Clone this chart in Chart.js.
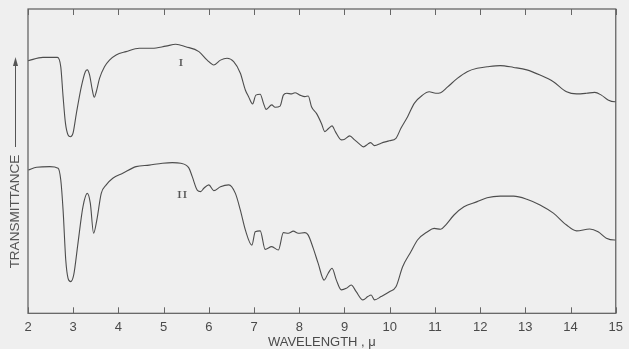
<!DOCTYPE html>
<html>
<head>
<meta charset="utf-8">
<script src="https://cdn.jsdelivr.net/npm/chart.js@4/dist/chart.umd.min.js"></script>
<style>
  html, body { margin: 0; padding: 0; background: #efefef; }
  canvas { display: block; }
</style>
</head>
<body>
<canvas id="spectra" width="629" height="349"></canvas>
<script>
// Infrared transmittance spectra, samples I and II (arbitrary transmittance units, 0-100 frame)
const xTicks = [2, 3, 4, 5, 6, 7, 8, 9, 10, 11, 12, 13, 14, 15];

const wavelengthI = [
  2.00, 2.33, 2.65, 2.725, 2.776, 2.829, 2.886, 2.938, 2.996, 3.070, 3.180, 3.268, 3.312,
  3.363, 3.422, 3.466, 3.510, 3.582, 3.692, 3.802, 3.949, 4.169, 4.462, 4.747, 5.048, 5.268,
  5.488, 5.780, 5.963, 6.110, 6.257, 6.402, 6.549, 6.697, 6.807, 6.879, 6.967, 7.040, 7.136,
  7.209, 7.268, 7.391, 7.466, 7.576, 7.648, 7.721, 7.831, 7.905, 8.015, 8.125, 8.198, 8.270,
  8.380, 8.490, 8.565, 8.653, 8.725, 8.798, 8.930, 9.004, 9.114, 9.224, 9.334, 9.422, 9.516,
  9.576, 9.664, 9.809, 9.993, 10.138, 10.248, 10.396, 10.543, 10.725, 10.873, 11.018, 11.127,
  11.275, 11.495, 11.714, 11.934, 12.154, 12.446, 12.741, 13.033, 13.325, 13.620, 13.912,
  14.132, 14.352, 14.534, 14.681, 14.829, 14.974, 15.00
];
const transmittanceI = [
  83.0, 84.1, 84.1, 81.0, 71.2, 62.4, 58.6, 58.0, 59.2, 65.7, 74.5, 79.4, 80.0,
  78.3, 73.4, 71.0, 72.8, 77.2, 81.0, 83.2, 84.9, 86.0, 87.1, 87.1, 87.8, 88.4,
  87.6, 86.0, 83.2, 81.6, 83.2, 83.8, 82.7, 78.9, 73.4, 71.2, 68.8, 71.7, 72.0,
  69.0, 67.0, 68.5, 67.7, 68.1, 71.7, 72.3, 72.1, 72.5, 71.7, 71.2, 71.4, 67.9,
  65.7, 62.4, 59.7, 60.8, 61.6, 59.7, 57.0, 57.2, 58.3, 57.0, 55.6, 54.7, 55.6,
  56.1, 55.1, 55.9, 56.7, 57.5, 60.8, 64.6, 69.0, 71.7, 72.8, 72.3, 72.5,
  74.3, 77.2, 79.4, 80.5, 81.0, 81.4, 80.8, 80.0, 78.3, 76.1, 72.8,
  72.1, 72.3, 72.6, 71.7, 70.1, 69.5, 69.8
];

const wavelengthII = [
  2.007, 2.191, 2.484, 2.666, 2.725, 2.776, 2.835, 2.886, 2.945, 3.011, 3.105, 3.215, 3.312,
  3.378, 3.451, 3.523, 3.620, 3.730, 3.875, 4.095, 4.389, 4.681, 4.974, 5.193, 5.378, 5.560,
  5.633, 5.743, 5.818, 5.890, 6.000, 6.110, 6.257, 6.440, 6.587, 6.697, 6.807, 6.952, 7.026,
  7.136, 7.246, 7.391, 7.538, 7.648, 7.758, 7.868, 7.978, 8.125, 8.198, 8.308, 8.418, 8.549,
  8.637, 8.725, 8.820, 8.930, 9.040, 9.149, 9.259, 9.407, 9.516, 9.589, 9.664, 9.809, 9.993,
  10.138, 10.286, 10.468, 10.615, 10.835, 10.982, 11.127, 11.237, 11.422, 11.642, 11.934,
  12.154, 12.446, 12.741, 13.033, 13.325, 13.620, 13.912, 14.132, 14.424, 14.609, 14.791,
  14.974, 15.00
];
const transmittanceII = [
  47.1, 48.0, 48.2, 47.7, 43.8, 33.9, 17.5, 11.5, 10.4, 12.6, 23.0, 35.0, 39.4,
  36.2, 26.3, 30.7, 39.4, 42.2, 44.4, 46.0, 48.2, 48.7, 49.3, 49.5, 49.3, 47.7,
  44.9, 40.5, 40.0, 41.1, 42.2, 40.3, 41.6, 42.2, 39.4, 33.9, 27.4, 22.4, 26.8,
  27.1, 21.0, 21.9, 20.8, 26.5, 26.3, 27.0, 26.3, 26.5, 25.7, 21.4, 16.4, 10.9,
  13.1, 14.8, 10.9, 7.7, 8.2, 9.3, 7.1, 4.4, 5.5, 6.0, 4.4, 5.5, 7.1,
  8.7, 15.3, 20.2, 24.1, 26.8, 27.9, 27.6, 29.0, 32.3, 35.0, 36.7,
  38.0, 38.5, 38.5, 37.5, 35.6, 32.9, 29.0, 27.1, 27.7, 26.8, 24.7,
  24.1, 24.1
];

// Curve identifiers and where they sit (wavelength, transmittance)
const curveLabels = ['I', 'II'];
const curveLabelX = [5.38, 5.41];
const curveLabelY = [82.1, 38.8];

const axisTitleX = 'WAVELENGTH , \u03bc';
const axisTitleY = 'TRANSMITTANCE';

const INK = '#4d4d4d';
const PAPER = '#efefef';

const toPoints = (xs, ys) => xs.map((x, i) => ({ x, y: ys[i] }));

// Frame, inward tick marks, y-axis caption with arrow, curve labels
const decorations = {
  id: 'decorations',
  beforeDraw(chart) {
    const { ctx } = chart;
    ctx.save();
    ctx.fillStyle = PAPER;
    ctx.fillRect(0, 0, chart.width, chart.height);
    ctx.restore();
  },
  afterDatasetsDraw(chart) {
    const { ctx, chartArea: a, scales } = chart;
    const xs = scales.x, ys = scales.y;
    ctx.save();
    ctx.strokeStyle = '#5a5a5a';
    ctx.lineWidth = 1.2;
    ctx.strokeRect(a.left, a.top, a.right - a.left, a.bottom - a.top);

    ctx.lineWidth = 1;
    ctx.strokeStyle = '#666';
    xTicks.forEach(t => {
      const px = Math.round(xs.getPixelForValue(t)) + 0.5;
      ctx.beginPath();
      ctx.moveTo(px, a.bottom);
      ctx.lineTo(px, a.bottom - 6);
      ctx.moveTo(px, a.top);
      ctx.lineTo(px, a.top + 6);
      ctx.stroke();
    });

    // y caption, rotated, with upward arrow
    ctx.fillStyle = '#555';
    ctx.font = '13.5px "Liberation Sans", Arial, sans-serif';
    ctx.textAlign = 'center';
    ctx.textBaseline = 'middle';
    ctx.save();
    ctx.translate(15.5, 211.5);
    ctx.rotate(-Math.PI / 2);
    ctx.fillText(axisTitleY, 0, 0);
    ctx.restore();
    ctx.strokeStyle = '#555';
    ctx.beginPath();
    ctx.moveTo(15.5, 147);
    ctx.lineTo(15.5, 63);
    ctx.stroke();
    ctx.beginPath();
    ctx.moveTo(15.5, 57);
    ctx.lineTo(13, 66);
    ctx.lineTo(18, 66);
    ctx.closePath();
    ctx.fill();

    // roman numeral curve labels
    ctx.fillStyle = '#555';
    ctx.font = '11px "Liberation Serif", "DejaVu Serif", serif';
    curveLabels.forEach((txt, i) => {
      const px = xs.getPixelForValue(curveLabelX[i]);
      const py = ys.getPixelForValue(curveLabelY[i]);
      ctx.save();
      ctx.translate(px, py);
      ctx.scale(1.45, 1);
      ctx.fillText(txt, 0, 0);
      ctx.restore();
    });
    ctx.restore();
  }
};

new Chart(document.getElementById('spectra'), {
  type: 'scatter',
  data: {
    datasets: [
      {
        label: 'I',
        data: toPoints(wavelengthI, transmittanceI),
        showLine: true,
        borderColor: INK,
        borderWidth: 1.1,
        pointRadius: 0,
        cubicInterpolationMode: 'monotone'
      },
      {
        label: 'II',
        data: toPoints(wavelengthII, transmittanceII),
        showLine: true,
        borderColor: INK,
        borderWidth: 1.1,
        pointRadius: 0,
        cubicInterpolationMode: 'monotone'
      }
    ]
  },
  options: {
    responsive: false,
    animation: false,
    devicePixelRatio: 1,
    layout: { padding: { left: 28, top: 9, right: 9.5, bottom: 0 } },
    plugins: {
      legend: { display: false },
      tooltip: { enabled: false }
    },
    scales: {
      x: {
        type: 'linear',
        position: 'bottom',
        min: 2,
        max: 15,
        afterBuildTicks(scale) {
          scale.ticks = xTicks.map(v => ({ value: v }));
        },
        afterFit(scale) { scale.height = 35.7; },
        grid: { display: false, drawTicks: false },
        border: { display: false },
        ticks: {
          color: '#4a4a4a',
          padding: 6,
          maxRotation: 0,
          font: { family: '"Liberation Sans", Arial, sans-serif', size: 13 }
        },
        title: {
          display: true,
          text: axisTitleX,
          color: '#4a4a4a',
          padding: { top: 0, bottom: 0 },
          font: { family: '"Liberation Sans", Arial, sans-serif', size: 13, lineHeight: 1 }
        }
      },
      y: {
        type: 'linear',
        display: false,
        min: 0,
        max: 100
      }
    }
  },
  plugins: [decorations]
});
</script>
</body>
</html>
